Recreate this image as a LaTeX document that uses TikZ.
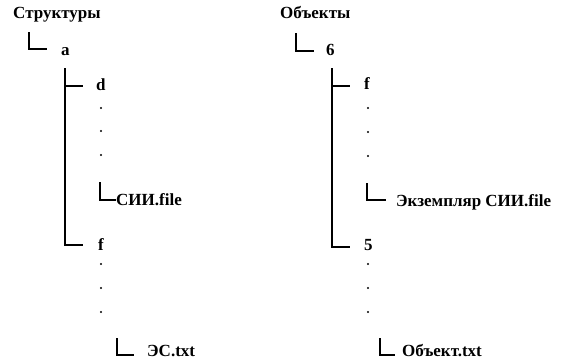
\documentclass[tikz,border=0pt]{standalone}
\usepackage{fontspec}
\setmainfont{Liberation Serif}
\begin{document}
\begin{tikzpicture}[x=1pt,y=-1pt,
  lbl/.style={anchor=base west,inner sep=0pt,font=\bfseries\fontsize{17}{19}\selectfont},
  ln/.style={line width=1.2pt},
  dotmark/.style={circle,fill,inner sep=0pt,minimum size=2.4pt}]
\useasboundingbox (0,0) rectangle (568,360);
% left tree
\node[lbl] (s) at (13,18) {Структуры};
\node[lbl] (a) at (61,55) {a};
\node[lbl] (d) at (96,90.5) {d};
\node[lbl] (sii) at (116,205) {СИИ.file};
\node[lbl] (f1) at (98,250) {f};
\node[lbl] (es) at (147,356.5) {ЭС.txt};
\coordinate (aT) at (29,32); \coordinate (aE) at (47,49);
\draw[ln] (aT) |- (aE);
\coordinate (tT) at (65,68); \coordinate (fE) at (83,245);
\draw[ln] (tT) |- (fE);
\coordinate (dS) at (65,86); \coordinate (dE) at (83,86);
\draw[ln] (dS) -- (dE);
\coordinate (siiT) at (100,182); \coordinate (siiE) at (116,200);
\draw[ln] (siiT) |- (siiE);
\coordinate (esT) at (117,338); \coordinate (esE) at (134,355);
\draw[ln] (esT) |- (esE);
\foreach \y [count=\i] in {108,131,155} \node[dotmark] (ld\i) at (101,\y) {};
\foreach \y [count=\i] in {264,288,312} \node[dotmark] (le\i) at (101,\y) {};
% right tree
\node[lbl] (o) at (280,18.5) {Объекты};
\node[lbl] (six) at (326,55) {6};
\node[lbl] (f2) at (364,89) {f};
\node[lbl] (ek) at (396,206) {Экземпляр СИИ.file};
\node[lbl] (five) at (364,250) {5};
\node[lbl] (ob) at (402,356) {Объект.txt};
\coordinate (bT) at (296,33); \coordinate (bE) at (314,51);
\draw[ln] (bT) |- (bE);
\coordinate (rT) at (332,68); \coordinate (r5E) at (350,247);
\draw[ln] (rT) |- (r5E);
\coordinate (rfS) at (332,86); \coordinate (rfE) at (350,86);
\draw[ln] (rfS) -- (rfE);
\coordinate (ekT) at (367,183); \coordinate (ekE) at (386,200);
\draw[ln] (ekT) |- (ekE);
\coordinate (obT) at (380,338); \coordinate (obE) at (395,355);
\draw[ln] (obT) |- (obE);
\foreach \y [count=\i] in {108,132,156} \node[dotmark] (rd\i) at (368,\y) {};
\foreach \y [count=\i] in {264,288,312} \node[dotmark] (re\i) at (368,\y) {};
\end{tikzpicture}
\end{document}
